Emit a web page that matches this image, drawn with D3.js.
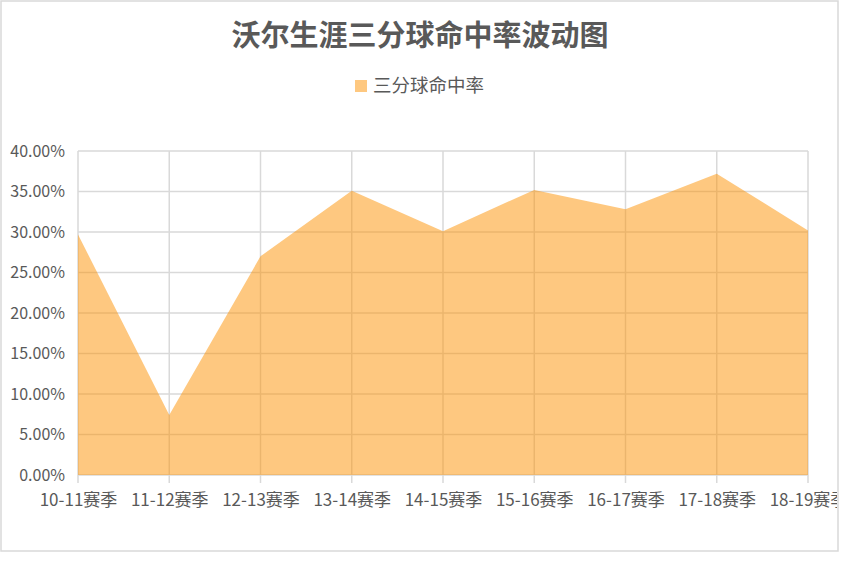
<!DOCTYPE html>
<html>
<head>
<meta charset="utf-8">
<script src="https://cdn.jsdelivr.net/npm/d3@7"></script>
<style>
  body { margin: 0; background: #fff; }
  text { font-family: "Noto Sans CJK SC", "Noto Sans", sans-serif; fill: #595959; }
</style>
</head>
<body>
<svg id="chart"></svg>
<script>
var seasons = ["10-11赛季", "11-12赛季", "12-13赛季", "13-14赛季", "14-15赛季", "15-16赛季", "16-17赛季", "17-18赛季", "18-19赛季"];
var threePct = [0.297, 0.074, 0.270, 0.351, 0.301, 0.352, 0.328, 0.372, 0.302];
var yTicks = [0, 0.05, 0.10, 0.15, 0.20, 0.25, 0.30, 0.35, 0.40];
var seriesName = "三分球命中率";
var title = "沃尔生涯三分球命中率波动图";

var width = 841;
var height = 565;
var margin = { top: 151, right: 33, bottom: 90, left: 78 };
var chartWidth = width - margin.left - margin.right;
var chartHeight = height - margin.top - margin.bottom;

var svg = d3.select("#chart").attr("width", width).attr("height", height);

// chart border
svg.append("rect")
    .attr("x", 1).attr("y", 1)
    .attr("width", 837).attr("height", 550)
    .attr("fill", "#fff")
    .attr("stroke", "#d9d9d9")
    .attr("stroke-width", 1.5);

svg.append("clipPath").attr("id", "frame")
    .append("rect").attr("x", 0).attr("y", 0).attr("width", 837).attr("height", 551);

var xScale = d3.scalePoint()
    .domain(seasons)
    .range([0, chartWidth]);

var yScale = d3.scaleLinear()
    .domain([0, 0.4])
    .range([chartHeight, 0]);

var g = svg.append("g")
    .attr("transform", `translate(${margin.left},${margin.top})`);

// grid
g.append("g")
    .selectAll("line.h")
    .data(yTicks)
    .enter().append("line")
    .attr("x1", 0).attr("x2", chartWidth)
    .attr("y1", d => yScale(d)).attr("y2", d => yScale(d))
    .attr("stroke", "#d9d9d9").attr("stroke-width", 1.5);

g.append("g")
    .selectAll("line.v")
    .data(seasons)
    .enter().append("line")
    .attr("x1", d => xScale(d)).attr("x2", d => xScale(d))
    .attr("y1", 0).attr("y2", chartHeight + 8)
    .attr("stroke", "#d9d9d9").attr("stroke-width", 1.5);

// area
var area = d3.area()
    .x((d, i) => xScale(seasons[i]))
    .y0(yScale(0))
    .y1(d => yScale(d));

g.append("path")
    .datum(threePct)
    .attr("d", area)
    .attr("fill", "#fd9101")
    .attr("fill-opacity", 0.5);

// y axis labels
var yAxis = g.append("g")
    .call(d3.axisLeft(yScale).tickValues(yTicks).tickFormat(d3.format(".2%")).tickSize(0).tickPadding(13));
yAxis.select(".domain").remove();
yAxis.selectAll("text").attr("font-size", "16px").attr("fill", "#595959").style("font-family", null);

// x axis labels (clipped by the chart frame like the original)
var xAxis = svg.append("g")
    .attr("clip-path", "url(#frame)")
    .append("g")
    .attr("transform", `translate(${margin.left},${margin.top + chartHeight})`)
    .call(d3.axisBottom(xScale).tickSize(0).tickPadding(19));
xAxis.select(".domain").remove();
xAxis.selectAll("text").attr("font-size", "17px").attr("fill", "#595959").style("font-family", null);

// title
svg.append("text")
    .attr("x", 420).attr("y", 46)
    .attr("text-anchor", "middle")
    .attr("font-size", "29px")
    .attr("font-weight", "bold")
    .text(title);

// legend
svg.append("rect")
    .attr("x", 355).attr("y", 80)
    .attr("width", 12).attr("height", 12)
    .attr("fill", "#fd9101").attr("fill-opacity", 0.5);

svg.append("text")
    .attr("x", 373).attr("y", 86)
    .attr("dy", "0.35em")
    .attr("font-size", "18.5px")
    .text(seriesName);
</script>
</body>
</html>
